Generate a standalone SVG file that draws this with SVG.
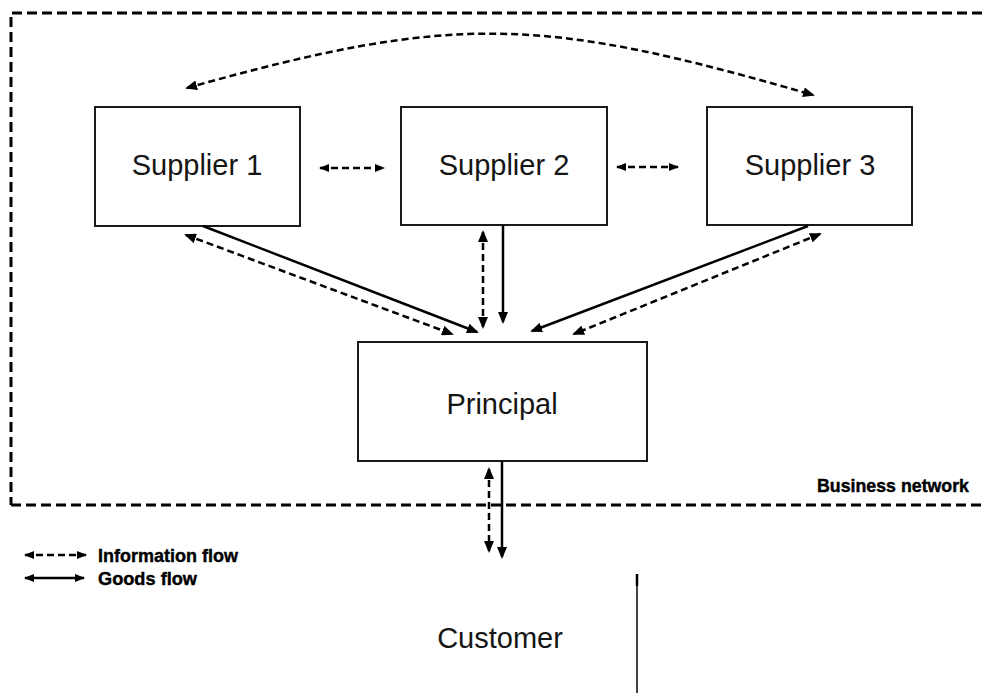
<svg xmlns="http://www.w3.org/2000/svg" width="982" height="693" viewBox="0 0 982 693">
  <style>
    .box { fill: #ffffff; stroke: #1a1a1a; stroke-width: 2; }
    .label { font-family: "Liberation Sans", Arial, sans-serif; font-size: 29px; fill: #151515; text-anchor: middle; }
    .legend { font-family: "Liberation Sans", Arial, sans-serif; font-weight: bold; font-size: 18px; fill: #000; stroke: #000; stroke-width: 0.4; }
    .border { fill: none; stroke: #000; stroke-width: 3; stroke-dasharray: 10 5; }
    .info { fill: none; stroke: #000; stroke-width: 2.5; stroke-dasharray: 7 4; }
    .goods { fill: none; stroke: #000; stroke-width: 2.5; }
  </style>
  <defs>
    <marker id="head" markerUnits="userSpaceOnUse" markerWidth="12" markerHeight="10" refX="10" refY="5" orient="auto-start-reverse">
      <path d="M0,0 L12,5 L0,10 z" fill="#000"/>
    </marker>
    <marker id="small-head" markerUnits="userSpaceOnUse" markerWidth="10" markerHeight="8" refX="9" refY="4" orient="auto-start-reverse">
      <path d="M0,0 L10,4 L0,8 z" fill="#000"/>
    </marker>
  </defs>

  <rect width="982" height="693" fill="#ffffff"/>

  <!-- business network boundary -->
  <g id="business-network">
    <path class="border" d="M982,13 L11,13 L11,505"/>
    <path class="border" d="M11,505 L982,505" stroke-width="2.5"/>
    <text class="legend" x="817" y="492" font-size="19" textLength="152" lengthAdjust="spacingAndGlyphs">Business network</text>
  </g>

  <g id="supplier1">
    <rect class="box" x="95" y="107" width="205" height="119"/>
    <text class="label" x="197" y="175">Supplier 1</text>
  </g>
  <g id="supplier2">
    <rect class="box" x="401" y="107" width="206" height="118"/>
    <text class="label" x="504" y="175">Supplier 2</text>
  </g>
  <g id="supplier3">
    <rect class="box" x="707" y="107" width="205" height="118"/>
    <text class="label" x="810" y="175">Supplier 3</text>
  </g>
  <g id="principal">
    <rect class="box" x="358" y="342" width="289" height="119"/>
    <text class="label" x="502" y="414">Principal</text>
  </g>
  <g id="customer">
    <text class="label" x="500" y="648">Customer</text>
    <line x1="637" y1="574" x2="637" y2="693" stroke="#000" stroke-width="1.5"/>
    <line x1="637" y1="574" x2="637" y2="586" stroke="#000" stroke-width="2.5"/>
  </g>

  <g id="connectors">
    <!-- arc between supplier 1 and supplier 3 -->
    <path class="info" d="M187,88 C457,12 543,17 813,95" marker-start="url(#head)" marker-end="url(#head)"/>
    <!-- between neighbouring suppliers -->
    <line class="info" x1="320" y1="168" x2="384" y2="168" stroke-dasharray="5 4" marker-start="url(#small-head)" marker-end="url(#small-head)"/>
    <line class="info" x1="617" y1="167" x2="678" y2="167" stroke-dasharray="5 4" marker-start="url(#small-head)" marker-end="url(#small-head)"/>
    <!-- supplier 1 to principal -->
    <line class="goods" x1="203" y1="226" x2="477" y2="332" marker-end="url(#head)"/>
    <line class="info" x1="186" y1="235" x2="452" y2="334" marker-start="url(#head)" marker-end="url(#head)"/>
    <!-- supplier 2 to principal -->
    <line class="goods" x1="503" y1="225" x2="503" y2="322" marker-end="url(#head)"/>
    <line class="info" x1="483" y1="232" x2="483" y2="327" marker-start="url(#head)" marker-end="url(#head)"/>
    <!-- supplier 3 to principal -->
    <line class="goods" x1="808" y1="226" x2="532" y2="331" marker-end="url(#head)"/>
    <line class="info" x1="820" y1="234" x2="574" y2="334" marker-start="url(#head)" marker-end="url(#head)"/>
    <!-- principal to customer -->
    <line class="goods" x1="502" y1="461" x2="502" y2="557" marker-end="url(#head)"/>
    <line class="info" x1="489" y1="469" x2="489" y2="551" marker-start="url(#head)" marker-end="url(#head)"/>
  </g>

  <!-- legend -->
  <g id="legend">
    <line class="info" x1="25" y1="555" x2="86" y2="555" stroke-width="2" stroke-dasharray="5 4" marker-start="url(#small-head)" marker-end="url(#small-head)"/>
    <text class="legend" x="98" y="562" textLength="140" lengthAdjust="spacingAndGlyphs">Information flow</text>
    <line class="goods" x1="25" y1="578" x2="84" y2="578" stroke-width="2" marker-start="url(#small-head)" marker-end="url(#small-head)"/>
    <text class="legend" x="98" y="585" textLength="99" lengthAdjust="spacingAndGlyphs">Goods flow</text>
  </g>
</svg>
